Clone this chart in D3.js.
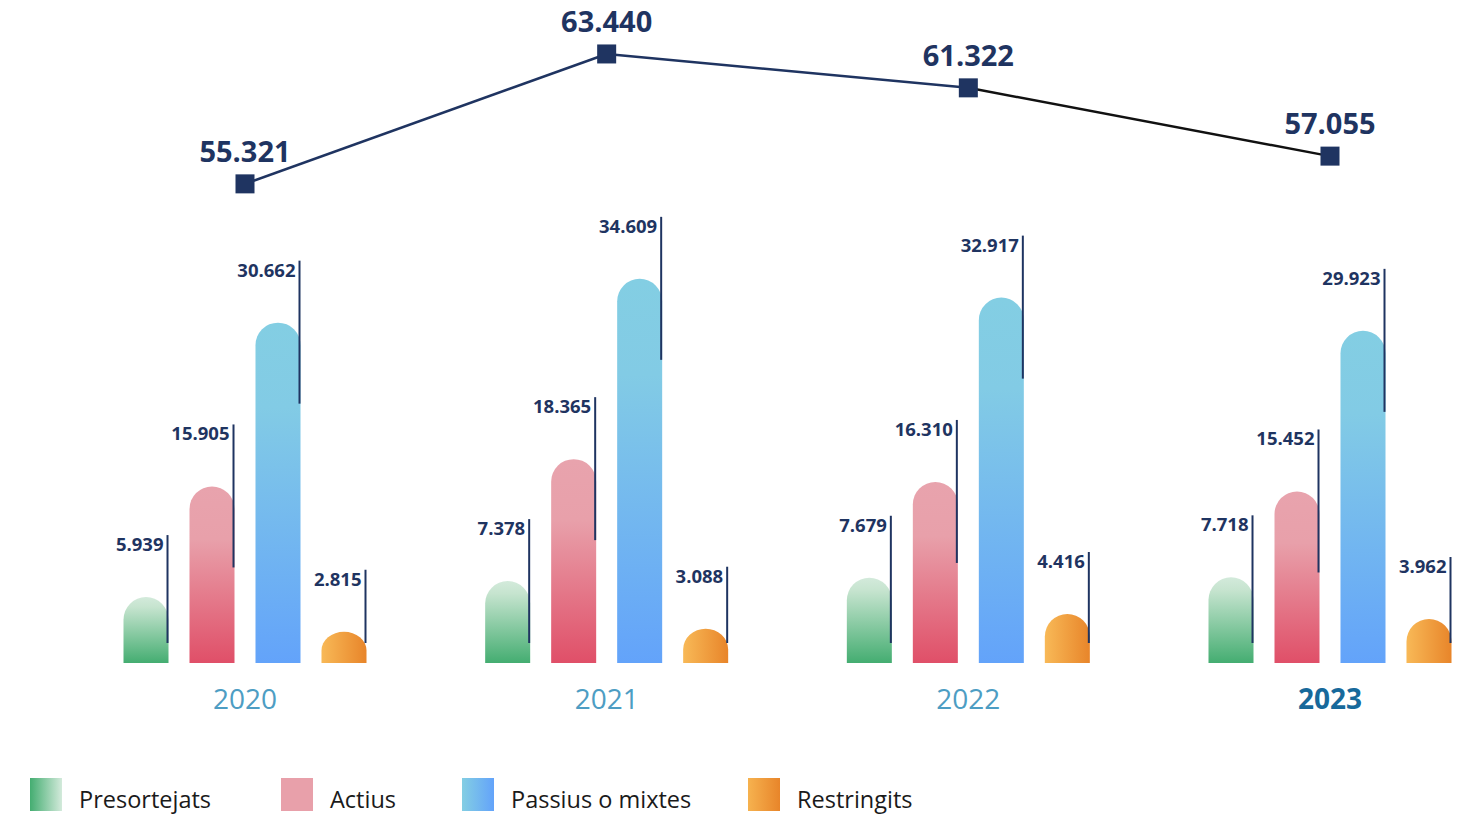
<!DOCTYPE html>
<html>
<head>
<meta charset="utf-8">
<script src="https://cdn.jsdelivr.net/npm/d3@7"></script>
<style>
  html, body { margin: 0; padding: 0; background: #fff; }
  svg { display: block; font-family: 'Open Sans', sans-serif; }
</style>
</head>
<body>
<svg id="chart" width="1479" height="815"></svg>
<script>
// data
const years = ['2020', '2021', '2022', '2023'];
const seriesNames = ['Presortejats', 'Actius', 'Passius o mixtes', 'Restringits'];
const presortejats = [5939, 7378, 7679, 7718];
const actius = [15905, 18365, 16310, 15452];
const passius = [30662, 34609, 32917, 29923];
const restringits = [2815, 3088, 4416, 3962];
const totals = [55321, 63440, 61322, 57055];

const seriesValues = [presortejats, actius, passius, restringits];
const seriesKeys = ['pre', 'act', 'pas', 'res'];

const navy = '#1f3461';
const fmt = d3.formatLocale({ decimal: ',', thousands: '.', grouping: [3], currency: ['', ''] }).format(',');

const svg = d3.select('#chart');
const baseline = 663;

const x = d3.scalePoint().domain(years).range([245, 1330]);
const xSub = d3.scaleBand().domain(seriesKeys).range([-121.5, 121.5]).paddingInner(0.318);
const yBar = d3.scaleLinear().domain([0, 35000]).range([baseline, baseline - 35 * 11.1]);
const yLine = d3.scaleLinear().domain([50000, 65000]).range([269, 29]);

// gradients
const defs = svg.append('defs');
function grad(id, horizontal, stops) {
    const g = defs.append('linearGradient').attr('id', id)
        .attr('x1', 0).attr('y1', 0)
        .attr('x2', horizontal ? 1 : 0).attr('y2', horizontal ? 0 : 1);
    stops.forEach(s => g.append('stop').attr('offset', s[0]).attr('stop-color', s[1]));
}
grad('g-pre', false, [[0, '#d3eadb'], [0.15, '#c6e4cf'], [1, '#44ad71']]);
grad('g-act', false, [[0, '#e8a3ad'], [0.3, '#e8a0aa'], [1, '#e04f68']]);
grad('g-pas', false, [[0, '#83cee3'], [0.25, '#82cbe5'], [1, '#63a3fa']]);
grad('g-res', true, [[0, '#f8b957'], [1, '#e8852a']]);
grad('l-pre', true, [[0, '#44ad71'], [1, '#d3eadb']]);
grad('l-act', true, [[0, '#e8a0aa'], [1, '#e8a0aa']]);
grad('l-pas', true, [[0, '#83cee3'], [1, '#63a3fa']]);
grad('l-res', true, [[0, '#f6b24f'], [1, '#e8852a']]);

function barPath(x0, w, top, bottom) {
    const rx = w / 2;
    const ry = Math.min(rx, (bottom - top) * 0.6);
    return `M${x0},${bottom} L${x0},${top + ry} A${rx},${ry} 0 0 1 ${x0 + w},${top + ry} L${x0 + w},${bottom} Z`;
}

const bars = [];
years.forEach((yr, i) => {
    seriesKeys.forEach((k, j) => {
        bars.push({ year: yr, key: k, value: seriesValues[j][i] });
    });
});

const group = svg.append('g');

group.selectAll('path.bar')
    .data(bars)
    .join('path')
    .attr('class', 'bar')
    .attr('fill', d => `url(#g-${d.key})`)
    .attr('d', d => barPath(x(d.year) + xSub(d.key), xSub.bandwidth(), yBar(d.value), baseline));

// leader lines
group.selectAll('line.leader')
    .data(bars)
    .join('line')
    .attr('class', 'leader')
    .attr('x1', d => x(d.year) + xSub(d.key) + xSub.bandwidth() - 1)
    .attr('x2', d => x(d.year) + xSub(d.key) + xSub.bandwidth() - 1)
    .attr('y1', d => yBar(d.value) - 62)
    .attr('y2', d => Math.min(yBar(d.value) + 81, baseline - 20))
    .attr('stroke', navy)
    .attr('stroke-width', 2);

group.selectAll('text.val')
    .data(bars)
    .join('text')
    .attr('class', 'val')
    .attr('x', d => x(d.year) + xSub(d.key) + xSub.bandwidth() - 5)
    .attr('y', d => yBar(d.value) - 46)
    .attr('text-anchor', 'end')
    .attr('font-size', 18.5)
    .attr('font-weight', 700)
    .attr('fill', navy)
    .text(d => fmt(d.value));

// year labels
svg.selectAll('text.year')
    .data(years)
    .join('text')
    .attr('class', 'year')
    .attr('x', d => x(d))
    .attr('y', 709)
    .attr('text-anchor', 'middle')
    .attr('font-size', 28)
    .attr('font-weight', (d, i) => i === years.length - 1 ? 700 : 400)
    .attr('fill', (d, i) => i === years.length - 1 ? '#17699b' : '#4d9dc3')
    .text(d => d);

// total line
const pts = years.map((yr, i) => ({ year: yr, value: totals[i] }));
const segs = d3.pairs(pts);
svg.selectAll('line.seg')
    .data(segs)
    .join('line')
    .attr('class', 'seg')
    .attr('x1', d => x(d[0].year)).attr('y1', d => yLine(d[0].value))
    .attr('x2', d => x(d[1].year)).attr('y2', d => yLine(d[1].value))
    .attr('stroke', (d, i) => i === segs.length - 1 ? '#111111' : navy)
    .attr('stroke-width', 2.5);

svg.selectAll('rect.marker')
    .data(pts)
    .join('rect')
    .attr('class', 'marker')
    .attr('x', d => x(d.year) - 9.5)
    .attr('y', d => yLine(d.value) - 9.5)
    .attr('width', 19)
    .attr('height', 19)
    .attr('fill', navy);

svg.selectAll('text.total')
    .data(pts)
    .join('text')
    .attr('class', 'total')
    .attr('x', d => x(d.year))
    .attr('y', d => yLine(d.value) - 22)
    .attr('text-anchor', 'middle')
    .attr('font-size', 29)
    .attr('font-weight', 700)
    .attr('fill', navy)
    .text(d => fmt(d.value));

// legend
const legendX = [30, 281, 462, 748];
const legend = svg.selectAll('g.legend')
    .data(seriesNames)
    .join('g')
    .attr('class', 'legend')
    .attr('transform', (d, i) => `translate(${legendX[i]},778)`);
legend.append('rect')
    .attr('width', 32).attr('height', 33)
    .attr('fill', (d, i) => `url(#l-${seriesKeys[i]})`);
legend.append('text')
    .attr('x', 49)
    .attr('y', 30)
    .attr('font-size', 23.5)
    .attr('fill', '#1a1a1a')
    .text(d => d);
</script>
</body>
</html>
